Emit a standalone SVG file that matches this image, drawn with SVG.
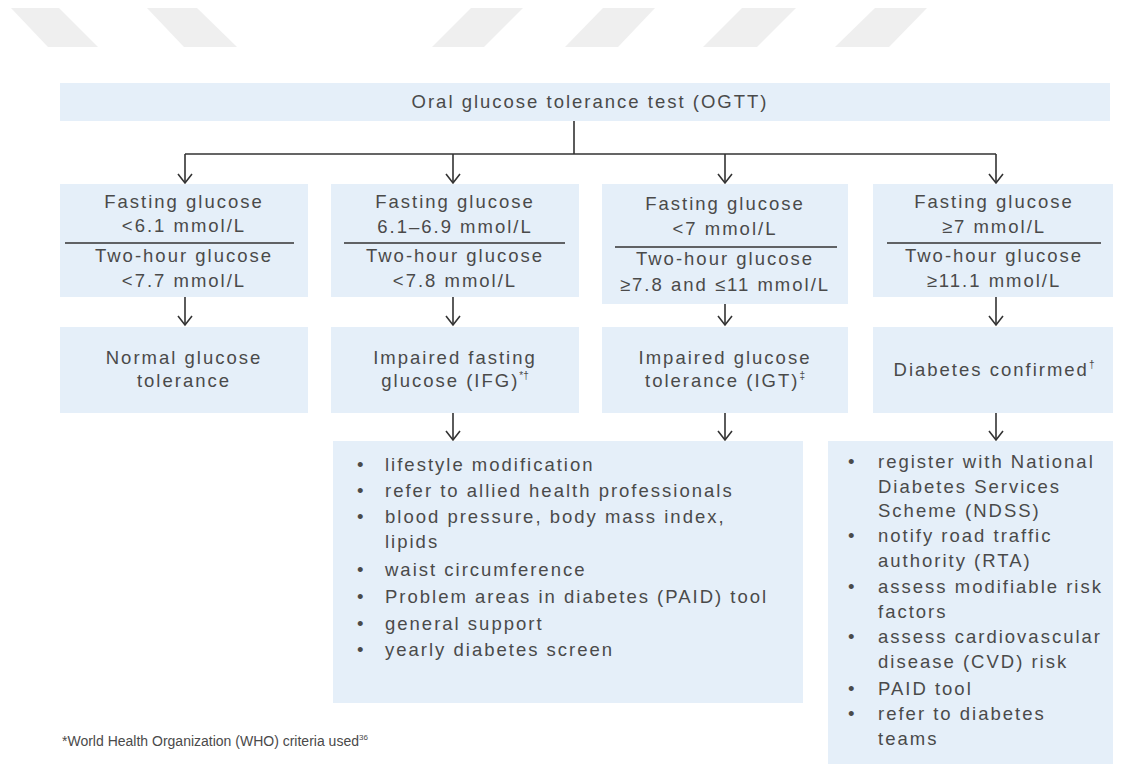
<svg xmlns="http://www.w3.org/2000/svg" width="1123" height="781" viewBox="0 0 1123 781">
<defs>
<style>
.box{fill:#e5eff9;}
.t{font-family:"Liberation Sans",Arial,sans-serif;font-size:18.5px;letter-spacing:2px;fill:#4a4a4a;}
.c{text-anchor:middle;}
.sup{font-size:10px;letter-spacing:0;}
.ln{stroke:#333;stroke-width:1.6;fill:none;}
.div{stroke:#333;stroke-width:1.6;}
.arr{stroke:#333;stroke-width:1.6;fill:none;marker-end:url(#chev);}
.deco{fill:#efefef;}
.fn{font-family:"Liberation Sans",Arial,sans-serif;font-size:14px;fill:#4a4a4a;}
</style>
<marker id="chev" markerUnits="userSpaceOnUse" markerWidth="20" markerHeight="20" refX="0" refY="0" orient="auto" overflow="visible">
<path d="M-9,-7 L0,0 L-9,7" fill="none" stroke="#333" stroke-width="1.6"/>
</marker>
</defs>
<rect width="1123" height="781" fill="#ffffff"/>
<g id="decor">
<polygon class="deco" points="11,8 59,8 98,47 48,47"/>
<polygon class="deco" points="147,8 197,8 237,47 184,47"/>
<polygon class="deco" points="471,8 523,8 484,47 432,47"/>
<polygon class="deco" points="603,8 655,8 618,47 565,47"/>
<polygon class="deco" points="742,8 796,8 757,47 703,47"/>
<polygon class="deco" points="875,8 927,8 889,47 835,47"/>
</g>
<g id="connectors">
<path class="ln" d="M574,121 V154 M185,154 H996"/>
<path class="arr" d="M185,154 V183"/>
<path class="arr" d="M453,154 V183"/>
<path class="arr" d="M725,154 V183"/>
<path class="arr" d="M996,154 V183"/>
<path class="arr" d="M185,297 V325"/>
<path class="arr" d="M453,297 V325"/>
<path class="arr" d="M725,304 V325"/>
<path class="arr" d="M996,297 V325"/>
<path class="arr" d="M453,413 V440"/>
<path class="arr" d="M725,413 V440"/>
<path class="arr" d="M996,413 V440"/>
</g>
<g id="ogtt">
<rect class="box" x="60" y="83" width="1050" height="38"/>
<text class="t c" x="590" y="108">Oral glucose tolerance test (OGTT)</text>
</g>
<g id="crit1">
<rect class="box" x="60" y="184" width="248" height="113"/>
<text class="t c" x="184" y="208">Fasting glucose</text>
<text class="t c" x="184" y="232">&lt;6.1 mmol/L</text>
<line class="div" x1="65" y1="243" x2="294" y2="243"/>
<text class="t c" x="184" y="262">Two-hour glucose</text>
<text class="t c" x="184" y="287">&lt;7.7 mmol/L</text>
</g>
<g id="crit2">
<rect class="box" x="331" y="184" width="248" height="113"/>
<text class="t c" x="455" y="208">Fasting glucose</text>
<text class="t c" x="455" y="233">6.1–6.9 mmol/L</text>
<line class="div" x1="344" y1="243" x2="565" y2="243"/>
<text class="t c" x="455" y="262">Two-hour glucose</text>
<text class="t c" x="455" y="287">&lt;7.8 mmol/L</text>
</g>
<g id="crit3">
<rect class="box" x="602" y="184" width="246" height="120"/>
<text class="t c" x="725" y="210">Fasting glucose</text>
<text class="t c" x="725" y="235">&lt;7 mmol/L</text>
<line class="div" x1="615" y1="247" x2="837" y2="247"/>
<text class="t c" x="725" y="265">Two-hour glucose</text>
<text class="t c" x="725" y="291">≥7.8 and ≤11 mmol/L</text>
</g>
<g id="crit4">
<rect class="box" x="873" y="184" width="240" height="113"/>
<text class="t c" x="994" y="208">Fasting glucose</text>
<text class="t c" x="994" y="233">≥7 mmol/L</text>
<line class="div" x1="887" y1="243" x2="1101" y2="243"/>
<text class="t c" x="994" y="262">Two-hour glucose</text>
<text class="t c" x="994" y="287">≥11.1 mmol/L</text>
</g>
<g id="normal">
<rect class="box" x="60" y="327" width="248" height="86"/>
<text class="t c" x="184" y="364">Normal glucose</text>
<text class="t c" x="184" y="387">tolerance</text>
</g>
<g id="ifg">
<rect class="box" x="331" y="327" width="248" height="86"/>
<text class="t c" x="455" y="364">Impaired fasting</text>
<text class="t c" x="455" y="387">glucose (IFG)<tspan class="sup" dy="-8">*†</tspan></text>
</g>
<g id="igt">
<rect class="box" x="602" y="327" width="246" height="86"/>
<text class="t c" x="725" y="364">Impaired glucose</text>
<text class="t c" x="725" y="387">tolerance (IGT)<tspan class="sup" dy="-8">‡</tspan></text>
</g>
<g id="diabetes">
<rect class="box" x="873" y="327" width="240" height="86"/>
<text class="t c" x="994" y="376">Diabetes confirmed<tspan class="sup" dy="-8">†</tspan></text>
</g>
<g id="actions-left">
<rect class="box" x="333" y="441" width="470" height="262"/>
<g class="t">
<text x="357" y="471">•</text><text x="385" y="471">lifestyle modification</text>
<text x="357" y="497">•</text><text x="385" y="497">refer to allied health professionals</text>
<text x="357" y="523">•</text><text x="385" y="523">blood pressure, body mass index,</text>
<text x="385" y="548">lipids</text>
<text x="357" y="576">•</text><text x="385" y="576">waist circumference</text>
<text x="357" y="603">•</text><text x="385" y="603">Problem areas in diabetes (PAID) tool</text>
<text x="357" y="630">•</text><text x="385" y="630">general support</text>
<text x="357" y="656">•</text><text x="385" y="656">yearly diabetes screen</text>
</g>
</g>
<g id="actions-right">
<rect class="box" x="828" y="441" width="285" height="323"/>
<g class="t">
<text x="848" y="468">•</text><text x="878" y="468">register with National</text>
<text x="878" y="493">Diabetes Services</text>
<text x="878" y="517">Scheme (NDSS)</text>
<text x="848" y="542">•</text><text x="878" y="542">notify road traffic</text>
<text x="878" y="567">authority (RTA)</text>
<text x="848" y="593">•</text><text x="878" y="593">assess modifiable risk</text>
<text x="878" y="618">factors</text>
<text x="848" y="643">•</text><text x="878" y="643">assess cardiovascular</text>
<text x="878" y="668">disease (CVD) risk</text>
<text x="848" y="695">•</text><text x="878" y="695">PAID tool</text>
<text x="848" y="720">•</text><text x="878" y="720">refer to diabetes</text>
<text x="878" y="745">teams</text>
</g>
</g>
<g id="footnote">
<text class="fn" x="62" y="746">*World Health Organization (WHO) criteria used<tspan font-size="8" dy="-6">36</tspan></text>
</g>
</svg>
